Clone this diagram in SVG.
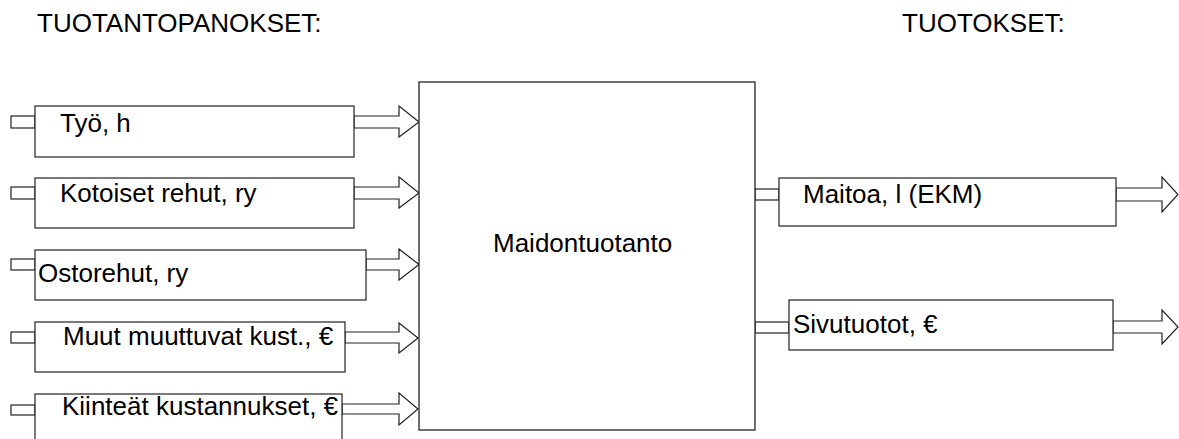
<svg xmlns="http://www.w3.org/2000/svg" width="1179" height="439" viewBox="0 0 1179 439">
  <style>
    text { font-family: "Liberation Sans", Arial, sans-serif; font-size: 26px; fill: #000; }
    .box { fill: #fff; stroke: #222; stroke-width: 1.2; }
    .main { fill: #fff; stroke: #222; stroke-width: 1.3; }
    .arrow { fill: #fff; stroke: #222; stroke-width: 1.2; stroke-linejoin: miter; }
  </style>
  <rect width="1179" height="439" fill="#fff"/>

  <!-- Column headings -->
  <g id="headings">
    <text x="37" y="32">TUOTANTOPANOKSET:</text>
    <text x="902" y="32">TUOTOKSET:</text>
  </g>

  <!-- Block arrows: inlet stubs and outlet arrows -->
  <g id="connectors">
    <!-- inputs -->
    <rect class="arrow" x="11" y="116" width="24" height="12"/>
    <polygon class="arrow" points="354,116 399,116 399,106 419,122 399,137 399,128 354,128"/>
    <rect class="arrow" x="11" y="187" width="24" height="12"/>
    <polygon class="arrow" points="354,187 399,187 399,177 419,193 399,208 399,199 354,199"/>
    <rect class="arrow" x="11" y="259" width="24" height="11"/>
    <polygon class="arrow" points="366,259 399,259 399,249 419,264.5 399,280 399,270 366,270"/>
    <rect class="arrow" x="11" y="332" width="24" height="11"/>
    <polygon class="arrow" points="345,332 399,332 399,323 418,338 399,353 399,343 345,343"/>
    <rect class="arrow" x="11" y="405" width="24" height="10"/>
    <polygon class="arrow" points="342,404 399,404 399,393 418,409 399,425 399,414 342,414"/>
    <!-- outputs -->
    <rect class="arrow" x="755" y="189" width="24" height="11"/>
    <polygon class="arrow" points="1116,188 1162,188 1162,177 1178,194.5 1162,212 1162,201 1116,201"/>
    <rect class="arrow" x="755" y="322" width="34" height="11"/>
    <polygon class="arrow" points="1113,321 1162,321 1162,310 1178,327 1162,344 1162,333 1113,333"/>
  </g>

  <g id="tyo">
    <rect class="box" x="35" y="106" width="319" height="51"/>
    <text x="60" y="132">Työ, h</text>
  </g>
  <g id="kotoiset-rehut">
    <rect class="box" x="35" y="178" width="319" height="50"/>
    <text x="60" y="202">Kotoiset rehut, ry</text>
  </g>
  <g id="ostorehut">
    <rect class="box" x="35" y="250" width="331" height="50"/>
    <text x="38" y="282">Ostorehut, ry</text>
  </g>
  <g id="muut-kustannukset">
    <rect class="box" x="35" y="322" width="310" height="50"/>
    <text x="63" y="345">Muut muuttuvat kust., €</text>
  </g>
  <g id="kiinteat-kustannukset">
    <rect class="box" x="35" y="394" width="307" height="50"/>
    <text x="62" y="415">Kiinteät kustannukset, €</text>
  </g>

  <g id="maidontuotanto">
    <rect class="main" x="419" y="82" width="336" height="348"/>
    <text x="493" y="252">Maidontuotanto</text>
  </g>

  <g id="maitoa">
    <rect class="box" x="779" y="178" width="337" height="48"/>
    <text x="803" y="203">Maitoa, l (EKM)</text>
  </g>
  <g id="sivutuotot">
    <rect class="box" x="789" y="300" width="324" height="50"/>
    <text x="793" y="333">Sivutuotot, €</text>
  </g>
</svg>
